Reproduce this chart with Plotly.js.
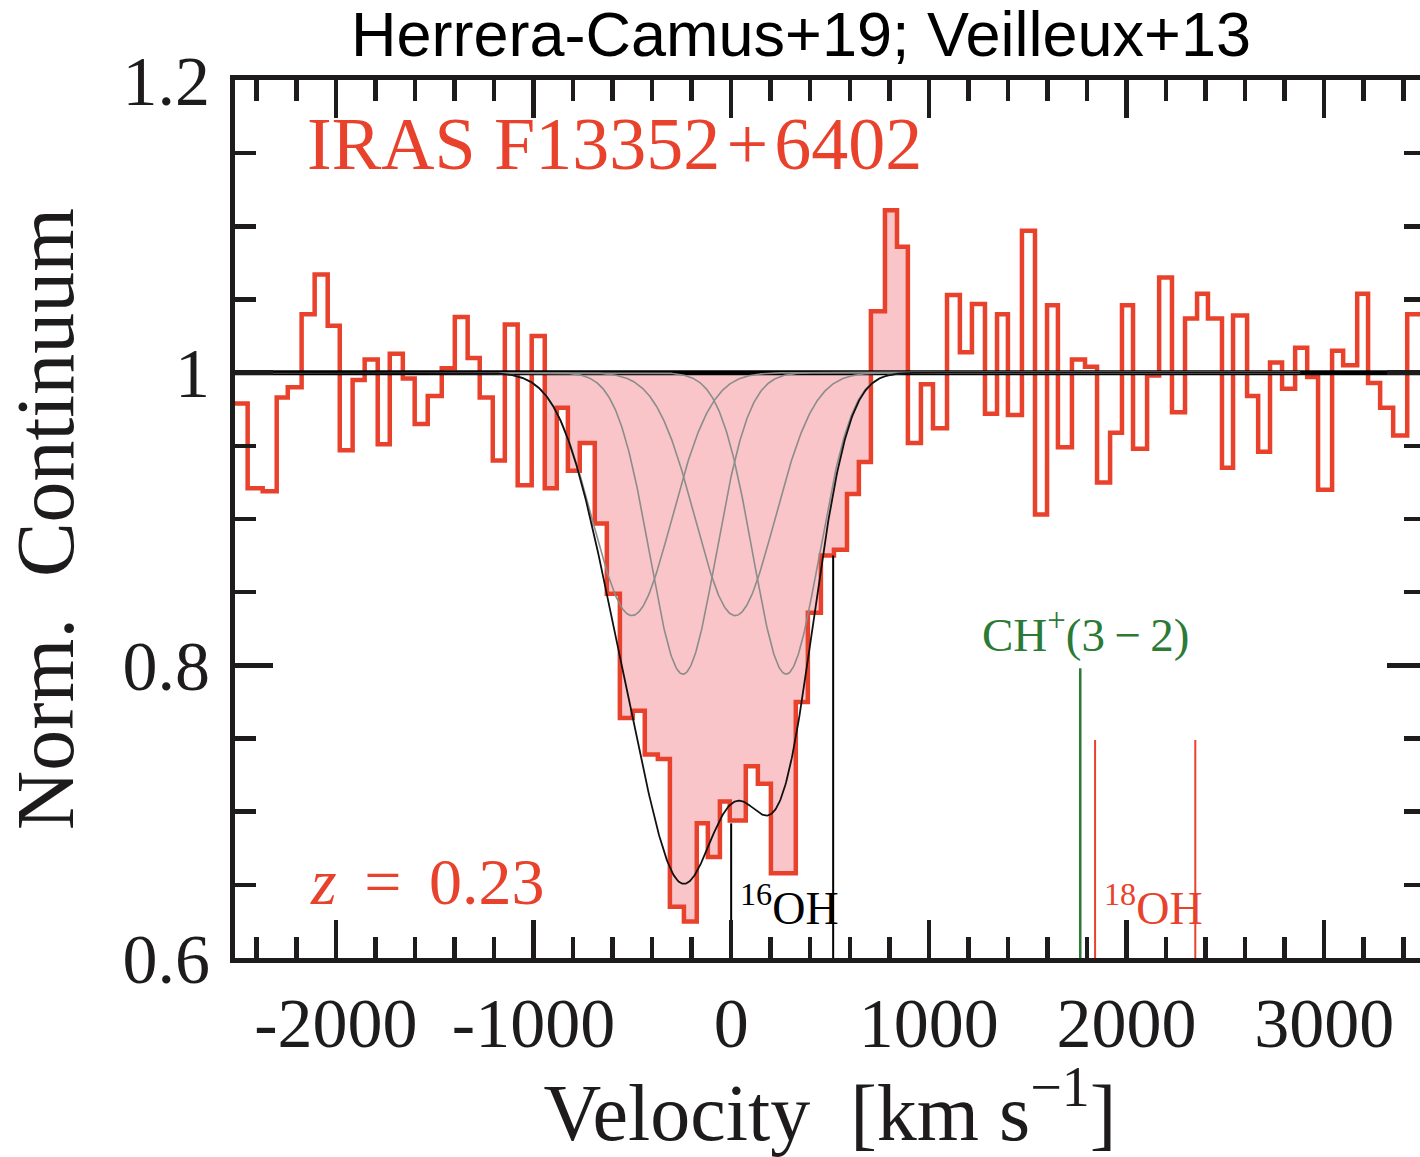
<!DOCTYPE html>
<html><head><meta charset="utf-8">
<script src="https://cdn.plot.ly/plotly-3.0.1.min.js"></script>
<style>
html,body{margin:0;padding:0;overflow:hidden;background:#fff;width:1420px;height:1157px}
#chart{width:1425px;height:1157px}
</style>
</head><body><div id="chart"></div>
<script>
// ---- data ----
const binEdges = [-2560,-2446,-2370,-2299,-2243,-2173,-2107,-2041,-1980,-1915,-1854,-1788,-1727,-1661,-1601,-1535,-1464,-1398,-1333,-1272,
  -1206,-1145,-1080,-1009,-943,-882,-826,-766,-690,-629,-563,-498,-437,-371,-310,-239,-174,-118,-57,-7,
  74,135,201,267,327,388,454,520,586,646,707,778,839,894,960,1021,1092,1157,1218,1284,
  1345,1400,1471,1537,1598,1653,1724,1790,1851,1917,1977,2033,2104,2165,2230,2296,2357,2412,2483,2539,
  2610,2666,2726,2787,2853,2914,2969,3040,3096,3167,3222,3283,3349,3420,3560];
const fluxValues = [0.979,0.921,0.919,0.983,0.990,1.040,1.067,1.032,0.947,0.995,1.009,0.951,1.013,0.996,0.965,0.984,1.003,1.038,1.010,0.983,
  0.940,1.033,0.923,1.025,0.921,0.976,0.933,0.952,0.897,0.849,0.764,0.769,0.739,0.736,0.635,0.625,0.692,0.669,0.707,0.694,
  0.731,0.719,0.658,0.658,0.775,0.836,0.875,0.879,0.917,0.939,1.042,1.111,1.086,0.952,0.992,0.962,1.053,1.014,1.047,0.972,
  1.040,0.971,1.097,0.903,1.046,0.949,1.009,1.004,0.925,0.959,1.046,0.948,0.998,1.065,0.973,1.037,1.054,1.037,0.935,1.039,
  0.984,0.946,1.007,0.989,1.017,0.997,0.920,1.015,1.005,1.054,0.993,0.976,0.957,1.040];
const shadedBins = [24, 52];               // first and last bin of the shaded absorption
const compCenters = [-502, 20, -244, 278];  // Gaussian components (two velocity comps x OH doublet)
const compDepths  = [0.166, 0.166, 0.206, 0.206];
const compSigmas  = [200, 200, 167, 167];
const modelSpan   = [-2510, 2880];
const oh16Vel = [0, 516],   oh16Top = [0.692, 0.875];
const chVel   = [1766],     chTop   = [0.798];
const oh18Vel = [1841, 2348], oh18Top = [0.749, 0.749];
const xTickVals = [-2000,-1000,0,1000,2000,3000];
const xTickText = ['-2000','-1000','0','1000','2000','3000'];
const yTickVals = [0.6,0.8,1,1.2];
const yTickText = ['0.6','0.8','1','1.2'];

// ---- styles ----
const RED = '#e8412c', PINK = '#f9c5c9', GREEN = '#2b7a36', INK = '#1e1b1c';
const SERIF = 'Liberation Serif, Times New Roman, serif';

const traces = [];
// shaded absorption
const fx = [binEdges[shadedBins[0]]], fy = [1];
for (let i = shadedBins[0]; i <= shadedBins[1]; i++) { fx.push(binEdges[i]); fy.push(fluxValues[i]); }
fx.push(binEdges[shadedBins[1]+1]); fy.push(fluxValues[shadedBins[1]]);
fx.push(binEdges[shadedBins[1]+1]); fy.push(1);
traces.push({x: fx, y: fy, mode: 'lines', line: {shape: 'hv', width: 0, color: PINK}, fill: 'toself', fillcolor: PINK, hoverinfo: 'skip'});
// histogram
traces.push({x: binEdges, y: fluxValues.concat([fluxValues[fluxValues.length-1]]), mode: 'lines',
  line: {shape: 'hv', width: 4.5, color: RED}, hoverinfo: 'skip'});
// continuum
traces.push({x: [-2600, 3600], y: [1, 1], mode: 'lines', line: {width: 5, color: '#000'}, hoverinfo: 'skip'});
// Gaussian components and total model
const vgrid = [];
for (let v = modelSpan[0]; v <= modelSpan[1]; v += 4) vgrid.push(v);
const g = (v, k) => compDepths[k] * Math.exp(-Math.pow(v - compCenters[k], 2) / (2 * compSigmas[k] * compSigmas[k]));
for (let k = 0; k < compCenters.length; k++) {
  traces.push({x: vgrid, y: vgrid.map(v => 1 - g(v, k)), mode: 'lines', line: {width: 1.6, color: '#8c8c8c'}, hoverinfo: 'skip'});
}
traces.push({x: vgrid, y: vgrid.map(v => 1 - compCenters.reduce((s, c, k) => s + g(v, k), 0)), mode: 'lines',
  line: {width: 1.8, color: '#111'}, hoverinfo: 'skip'});
// line markers
function vlines(vels, tops, color, width) {
  vels.forEach((v, i) => traces.push({x: [v, v], y: [0.6, tops[i]], mode: 'lines', line: {width: width, color: color}, hoverinfo: 'skip'}));
}
vlines(oh16Vel, oh16Top, '#000', 2);
vlines(chVel, chTop, GREEN, 2.5);
vlines(oh18Vel, oh18Top, RED, 2);

const axisCommon = {
  showgrid: false, zeroline: false, showline: true, linecolor: INK, linewidth: 5, mirror: 'ticks',
  ticks: 'inside', ticklen: 38, tickwidth: 4.5, tickcolor: INK, tickmode: 'array',
  tickfont: {family: SERIF, size: 70, color: INK}
};
const layout = {
  width: 1425, height: 1157,
  margin: {l: 235, r: 0, t: 80, b: 199, pad: 0},
  paper_bgcolor: '#fff', plot_bgcolor: '#fff', showlegend: false,
  title: {text: 'Herrera-Camus+19; Veilleux+13', font: {family: 'Liberation Sans, Arial, sans-serif', size: 63, color: '#000'},
    xref: 'container', x: 801/1425, xanchor: 'center', yref: 'container', y: 1, yanchor: 'top', pad: {t: 12}},
  xaxis: Object.assign({}, axisCommon, {
    range: [-2510, 3510], tickvals: xTickVals, ticktext: xTickText, ticklabelstandoff: 0,
    minor: {tickmode: 'linear', tick0: 0, dtick: 200, ticks: 'inside', ticklen: 21, tickwidth: 4.5, tickcolor: INK},
    title: {text: 'Velocity\u00A0\u00A0[km\u00A0s<sup>\u22121</sup>]', font: {family: SERIF, size: 80, color: INK}, standoff: 32}
  }),
  yaxis: Object.assign({}, axisCommon, {
    range: [0.6, 1.2], tickvals: yTickVals, ticktext: yTickText, ticklabelstandoff: 6,
    minor: {tickmode: 'linear', tick0: 0.6, dtick: 0.05, ticks: 'inside', ticklen: 21, tickwidth: 4.5, tickcolor: INK},
    title: {text: 'Norm.\u00A0\u00A0Continuum', font: {family: SERIF, size: 82, color: INK}, standoff: 41}
  }),
  annotations: [
    {x: -2157, y: 1.156, xref: 'x', yref: 'y', xanchor: 'left', yanchor: 'middle', showarrow: false,
     text: 'IRAS F13352\u200A+\u200A6402', font: {family: SERIF, size: 74, color: RED}},
    {x: -2142, y: 0.652, xref: 'x', yref: 'y', xanchor: 'left', yanchor: 'middle', showarrow: false,
     text: '<i>z</i>\u2004\u200A=\u2004\u200A0.23', font: {family: SERIF, size: 66, color: RED}},
    {x: 1259, y: 0.823, xref: 'x', yref: 'y', xanchor: 'left', yanchor: 'middle', showarrow: false,
     text: 'CH<sup>+</sup>(3\u2009\u2212\u20092)', font: {family: SERIF, size: 47, color: GREEN}},
    {x: 34, y: 0.636, xref: 'x', yref: 'y', xanchor: 'left', yanchor: 'middle', showarrow: false,
     text: '<sup>16</sup>OH', font: {family: SERIF, size: 46, color: '#000'}},
    {x: 1876, y: 0.636, xref: 'x', yref: 'y', xanchor: 'left', yanchor: 'middle', showarrow: false,
     text: '<sup>18</sup>OH', font: {family: SERIF, size: 46, color: RED}}
  ]
};
Plotly.newPlot('chart', traces, layout, {displayModeBar: false, staticPlot: true});
</script>
</body></html>
